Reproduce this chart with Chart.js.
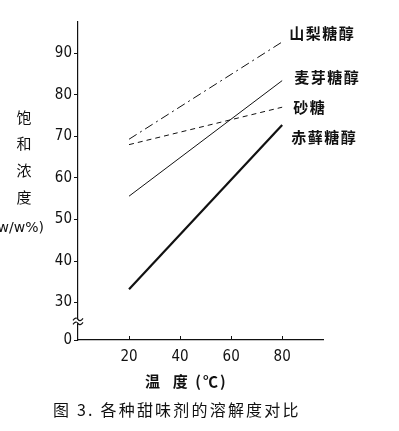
<!DOCTYPE html>
<html><head><meta charset="utf-8">
<script src="https://cdn.jsdelivr.net/npm/chart.js@4.4.1/dist/chart.umd.min.js"></script>
<style>html,body{margin:0;padding:0;background:#fff}#wrap{width:399px;height:431px;position:relative}</style>
</head><body><div id="wrap"><canvas id="c" width="399" height="431"></canvas></div>
<script>
// Data
const temps = [20, 80];
const sorbitol = [69.3, 92.7];     // 山梨糖醇
const maltitol = [55.6, 83.4];     // 麦芽糖醇
const sucrose = [68.0, 77.0];      // 砂糖
const erythritol = [33.2, 72.7];   // 赤藓糖醇
const seriesNames = ['山梨糖醇', '麦芽糖醇', '砂糖', '赤藓糖醇'];
const yTickValues = [30, 40, 50, 60, 70, 80, 90];
const xTickValues = [20, 40, 60, 80];
const yBreakBase = 21;   // the "0" position after the axis break
const yTitleChars = ['饱', '和', '浓', '度'];
const yTitleUnit = '(w/w%)';
const xTitle = '温  度 (℃)';
const caption = '图 3. 各种甜味剂的溶解度对比';

const pts = arr => temps.map((t, i) => ({x: t, y: arr[i]}));
const labelOffsets = [[7, -9], [12, -3], [11, 0], [9, 12]];

const ink = '#111';
const decor = {
  id: 'decor',
  afterDraw(chart) {
    const ctx = chart.ctx, xs = chart.scales.x, ys = chart.scales.y;
    ctx.save();
    // x-axis inward tick marks
    ctx.strokeStyle = ink; ctx.lineWidth = 1;
    const by = ys.getPixelForValue(yBreakBase);
    xTickValues.forEach(v => {
      const px = Math.round(xs.getPixelForValue(v)) + 0.5;
      ctx.beginPath(); ctx.moveTo(px, by); ctx.lineTo(px, by - 4); ctx.stroke();
    });
    // axis break mark
    const bx = xs.getPixelForValue(0), bky = ys.getPixelForValue(25.5);
    ctx.fillStyle = '#fff';
    ctx.fillRect(bx - 2, bky - 2, 4, 4);
    ctx.strokeStyle = ink; ctx.lineWidth = 1.2;
    [-2, 2].forEach(d => {
      ctx.beginPath();
      ctx.moveTo(bx - 5, bky + d + 1);
      ctx.quadraticCurveTo(bx - 2, bky + d - 3, bx, bky + d);
      ctx.quadraticCurveTo(bx + 2, bky + d + 3, bx + 5, bky + d - 1);
      ctx.stroke();
    });
    // series labels
    ctx.fillStyle = ink;
    ctx.font = 'bold 15px "Noto Sans CJK SC"';
    ctx.letterSpacing = '1.5px';
    ctx.textBaseline = 'middle'; ctx.textAlign = 'left';
    chart.data.datasets.forEach((ds, i) => {
      const last = ds.data[ds.data.length - 1];
      const px = xs.getPixelForValue(last.x), py = ys.getPixelForValue(last.y);
      ctx.fillText(seriesNames[i], px + labelOffsets[i][0], py + labelOffsets[i][1]);
    });
    // y title
    ctx.letterSpacing = '0px';
    ctx.font = '15px "Noto Sans CJK SC"';
    ctx.textAlign = 'center';
    yTitleChars.forEach((ch, i) => ctx.fillText(ch, 24, 117 + i * 26.7));
    ctx.font = '14px "DejaVu Sans"';
    ctx.textAlign = 'right';
    ctx.fillText(yTitleUnit, 44, 228);
    // x title
    ctx.font = 'bold 15px "Noto Sans CJK SC"';
    ctx.letterSpacing = '2px';
    ctx.textAlign = 'left';
    ctx.fillText(xTitle, 145, 381);
    // caption
    ctx.font = '16px "Noto Sans CJK SC"';
    ctx.letterSpacing = '2.2px';
    ctx.textAlign = 'left';
    ctx.fillText(caption, 53, 410);
    ctx.restore();
  }
};

new Chart(document.getElementById('c'), {
  type: 'line',
  data: {
    datasets: [
      {label: seriesNames[0], data: pts(sorbitol), borderColor: ink, borderWidth: 1, borderDash: [9, 4, 2, 4]},
      {label: seriesNames[1], data: pts(maltitol), borderColor: ink, borderWidth: 1},
      {label: seriesNames[2], data: pts(sucrose), borderColor: ink, borderWidth: 1, borderDash: [5, 4]},
      {label: seriesNames[3], data: pts(erythritol), borderColor: ink, borderWidth: 2.2}
    ]
  },
  options: {
    responsive: false, animation: false,
    layout: {padding: {left: 0, right: 76, top: 22, bottom: 0}},
    elements: {point: {radius: 0}, line: {tension: 0}},
    plugins: {legend: {display: false}, tooltip: {enabled: false}},
    scales: {
      x: {
        type: 'linear', min: 0, max: 96,
        afterBuildTicks: s => { s.ticks = xTickValues.map(v => ({value: v})); },
        afterFit: s => { s.height = 91; },
        grid: {display: false},
        border: {display: true, color: ink, width: 1.2},
        ticks: {color: '#111', padding: 0, font: {family: '"Liberation Sans Narrow","DejaVu Sans Condensed"', size: 15}}
      },
      y: {
        type: 'linear', min: yBreakBase, max: 97.5,
        afterBuildTicks: s => { s.ticks = [yBreakBase, ...yTickValues].map(v => ({value: v})); },
        afterFit: s => { s.width = 78; },
        grid: {drawOnChartArea: false, tickLength: 4, color: ink},
        border: {display: true, color: ink, width: 1.2},
        ticks: {color: '#111', padding: 2, callback: v => v === yBreakBase ? '0' : String(v),
          font: {family: '"Liberation Sans Narrow","DejaVu Sans Condensed"', size: 15}}
      }
    }
  },
  plugins: [decor]
});
</script></body></html>
